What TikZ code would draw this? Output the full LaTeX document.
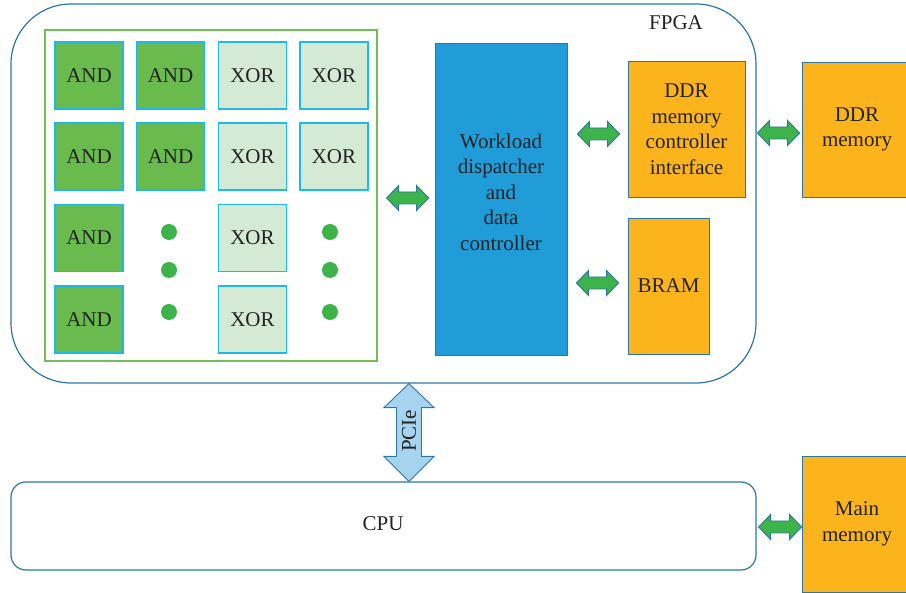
\documentclass[tikz,border=0pt]{standalone}
\usepackage{fontspec}
\setmainfont{Liberation Serif}
\usetikzlibrary{calc}

\definecolor{edgeblue}{RGB}{46,117,166}
\definecolor{gatecyan}{RGB}{30,185,235}
\definecolor{andgreen}{RGB}{106,187,78}
\definecolor{xorgreen}{RGB}{213,234,213}
\definecolor{framegreen}{RGB}{112,190,85}
\definecolor{dotgreen}{RGB}{61,180,74}
\definecolor{workblue}{RGB}{32,156,216}
\definecolor{memorange}{RGB}{251,180,28}
\definecolor{pcieblue}{RGB}{166,212,238}
\definecolor{ink}{RGB}{34,34,34}

% horizontal double arrow between two boxes:
% #1 left box, #2 right box, #3 box giving the height, #4/#5 gaps, #6 vertical offset
\newcommand\hlink[6]{%
  \draw[dblarrow] let \p1=($(#1.east)+(#4,0)$), \p2=($(#2.west)+(-#5,0)$),
        \p3=($(#3.center)+(0,#6)$) in
    (\x1,\y3) -- (\x1+12pt,\y3+12.5pt) -- (\x1+12pt,\y3+6pt) -- (\x2-12pt,\y3+6pt)
    -- (\x2-12pt,\y3+12.5pt) -- (\x2,\y3) -- (\x2-12pt,\y3-12.5pt) -- (\x2-12pt,\y3-6pt)
    -- (\x1+12pt,\y3-6pt) -- (\x1+12pt,\y3-12.5pt) -- cycle;}

\tikzset{
  txt/.style={text=ink, font=\fontsize{21}{25.5}\selectfont, align=center, inner sep=0pt},
  gate/.style={txt, draw=gatecyan, line width=1.2pt, minimum width=68pt, minimum height=67pt},
  andgate/.style={gate, fill=andgreen},
  xorgate/.style={gate, fill=xorgreen},
  dot/.style={circle, fill=dotgreen, minimum size=16pt, inner sep=0pt},
  membox/.style={txt, fill=memorange, draw=edgeblue, line width=0.8pt},
  dblarrow/.style={fill=dotgreen, draw=edgeblue, line width=0.9pt, line join=miter},
}

\begin{document}
\begin{tikzpicture}[x=1pt, y=-1pt]
\useasboundingbox (0,0) rectangle (906,593);

% FPGA outline
\node[draw=edgeblue, line width=1.2pt, rounded corners=60pt,
      minimum width=745pt, minimum height=379pt] (fpga) at (383.5,193.5) {};
\node[txt] (fpgalabel) at (676,23) {FPGA};

% logic gate array
\node[draw=framegreen, line width=1.2pt, minimum width=332pt, minimum height=331pt]
     (gates) at (211,195.5) {};
\node[andgate] (a11) at (89,75.5) {AND};
\node[andgate] (a12) at (170.5,75.5) {AND};
\node[xorgate] (x13) at (252.5,75.5) {XOR};
\node[xorgate] (x14) at (334,75.5) {XOR};
\node[andgate] (a21) at (89,156.5) {AND};
\node[andgate] (a22) at (170.5,156.5) {AND};
\node[xorgate] (x23) at (252.5,156.5) {XOR};
\node[xorgate] (x24) at (334,156.5) {XOR};
\node[andgate] (a31) at (89,238) {AND};
\node[xorgate] (x33) at (252.5,238) {XOR};
\node[andgate] (a41) at (89,319.5) {AND};
\node[xorgate] (x43) at (252.5,319.5) {XOR};
\node[dot] (dl1) at (169,232) {};
\node[dot] (dl2) at (169,270) {};
\node[dot] (dl3) at (169,312) {};
\node[dot] (dr1) at (330,232) {};
\node[dot] (dr2) at (330,270) {};
\node[dot] (dr3) at (330,312) {};

% dispatcher
\node[fill=workblue, draw=edgeblue, line width=0.8pt, minimum width=132pt, minimum height=312pt]
     (work) at (501,199) {};
\node[txt] (worktext) at (501,192) {Workload\\dispatcher\\and\\data\\controller};

% memories
\node[membox, minimum width=117pt, minimum height=136pt] (ddrc) at (686.5,129)
     {DDR\\memory\\controller\\interface};
\node[membox, minimum width=81pt, minimum height=136pt] (bram) at (668.5,286) {BRAM};
\node[membox, minimum width=110pt, minimum height=135pt] (ddrm) at (857,129.5) {DDR\\memory};
\node[membox, minimum width=110pt, minimum height=136pt] (mainm) at (857,524) {Main\\memory};

% CPU
\node[txt, draw=edgeblue, line width=1.2pt, rounded corners=15pt,
      minimum width=745pt, minimum height=88pt] (cpu) at (383.5,526) {};
\node[txt] (cputext) at (383,524) {CPU};

% links
\hlink{gates}{work}{work}{9}{6}{-1}
\hlink{work}{ddrc}{ddrc}{10}{8}{5}
\hlink{work}{bram}{bram}{9}{9}{-3}
\hlink{ddrc}{ddrm}{ddrm}{12}{2}{3.5}
\hlink{cpu}{mainm}{cpu}{2}{0}{1}

% PCIe link
\coordinate (pcx) at (409,0);
\draw[fill=pcieblue, draw=edgeblue, line width=0.9pt]
  let \p1=(pcx |- fpga.south), \p2=(pcx |- cpu.north) in
  (\x1,\y1) -- (\x1+25pt,\y1-24pt) -- (\x1+12.5pt,\y1-24pt) -- (\x1+12.5pt,\y2+25pt)
  -- (\x1+25pt,\y2+25pt) -- (\x1,\y2) -- (\x1-25pt,\y2+25pt) -- (\x1-12.5pt,\y2+25pt)
  -- (\x1-12.5pt,\y1-24pt) -- (\x1-25pt,\y1-24pt) -- cycle;
\node[txt, rotate=90] (pcie) at (409,431) {PCIe};
\end{tikzpicture}
\end{document}
